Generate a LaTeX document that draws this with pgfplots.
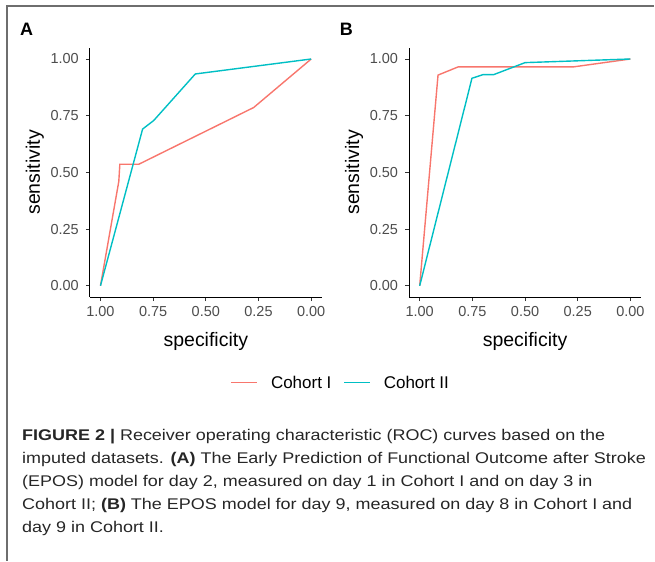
\documentclass[border=0pt]{standalone}
\usepackage{pgfplots}
\pgfplotsset{compat=1.18}
\usepackage{fontspec}
\setmainfont{Liberation Sans}
\newfontfamily\capfont[FakeStretch=1.16]{Liberation Sans}
\definecolor{cI}{HTML}{F8766D}
\definecolor{cII}{HTML}{00BFC4}
\definecolor{tickgray}{HTML}{4D4D4D}
\definecolor{framegray}{HTML}{6E6E6E}

\pgfplotsset{
  rocax/.style={
    scale only axis, width=232pt, height=249.7pt,
    x dir=reverse, xmin=-0.05, xmax=1.05, ymin=-0.05, ymax=1.05,
    axis x line*=bottom, axis y line*=left,
    axis line style={black, line width=1pt, -},
    xtick={0,0.25,0.5,0.75,1}, ytick={0,0.25,0.5,0.75,1},
    tick align=outside, major tick length=4pt,
    tick style={black!80, line width=0.8pt},
    /pgf/number format/fixed, /pgf/number format/fixed zerofill,
    /pgf/number format/precision=2, /pgf/number format/assume math mode=true,
    tick label style={font=\fontsize{14.5}{16}\selectfont, text=tickgray},
    yticklabel style={anchor=east, inner sep=0pt, xshift=-7pt},
    xticklabel style={anchor=north, inner sep=0pt, yshift=-5pt},
    every axis x label/.style={at={(axis description cs:0.5,-0.196)}, anchor=base, font=\fontsize{19.5}{22}\selectfont},
    every axis y label/.style={at={(axis description cs:-0.2155,0.5)}, rotate=90, anchor=base, font=\fontsize{19.5}{22}\selectfont},
    xlabel={specificity}, ylabel={sensitivity},
    every axis plot/.append style={line width=1.4pt},
    clip=false,
  }
}

\begin{document}
\begin{tikzpicture}
\path (0pt,0pt) rectangle (655pt,561pt);
\draw[framegray, line width=1.1pt] (7pt,0pt) -- (7pt,555pt) -- (655pt,555pt);
\coordinate (pA) at (90pt,263.6pt);
\coordinate (pB) at (409.5pt,263.6pt);

\node[anchor=base west, font=\fontsize{18}{20}\selectfont\bfseries, inner sep=0pt] at (20pt,525pt) {A};
\node[anchor=base west, font=\fontsize{18}{20}\selectfont\bfseries, inner sep=0pt] at (340pt,525pt) {B};

\begin{axis}[rocax, at={(pA)}, anchor=south west,
  legend style={at={(axis description cs:1.078,-0.343)}, anchor=center, draw=none, fill=none,
    legend columns=-1, font=\fontsize{17}{20}\selectfont, inner sep=0pt,
    nodes={inner sep=0pt},
    /tikz/every odd column/.append style={column sep=13pt},
    /tikz/every even column/.append style={column sep=12pt}},
  legend image code/.code={\draw[#1, line width=1.4pt] (0pt,0pt) -- (26pt,0pt);},
]
\addplot[cI] coordinates {(1,0) (0.913,0.46) (0.908,0.536) (0.818,0.536) (0.273,0.786) (0,1)};
\addlegendentry{Cohort I}
\addplot[cII] coordinates {(1,0) (0.80,0.691) (0.747,0.729) (0.55,0.934) (0,1)};
\addlegendentry{Cohort II}
\end{axis}

\begin{axis}[rocax, at={(pB)}, anchor=south west]
\addplot[cI] coordinates {(1,0) (0.913,0.929) (0.818,0.965) (0.272,0.965) (0,1)};
\addplot[cII] coordinates {(1,0) (0.752,0.915) (0.70,0.931) (0.649,0.931) (0.50,0.984) (0,1)};
\end{axis}

\begin{scope}[every node/.style={anchor=base west, inner sep=0pt, font=\capfont\fontsize{15.5}{23}\selectfont, text=black!85}]
\node at (22pt,120pt) {\textbf{FIGURE 2 |} Receiver operating characteristic (ROC) curves based on the};
\node at (22pt,97pt) {imputed datasets. \textbf{(A)} The Early Prediction of Functional Outcome after Stroke};
\node at (22pt,74pt) {(EPOS) model for day 2, measured on day 1 in Cohort I and on day 3 in};
\node at (22pt,51pt) {Cohort II; \textbf{(B)} The EPOS model for day 9, measured on day 8 in Cohort I and};
\node at (22pt,28pt) {day 9 in Cohort II.};
\end{scope}
\end{tikzpicture}
\end{document}
